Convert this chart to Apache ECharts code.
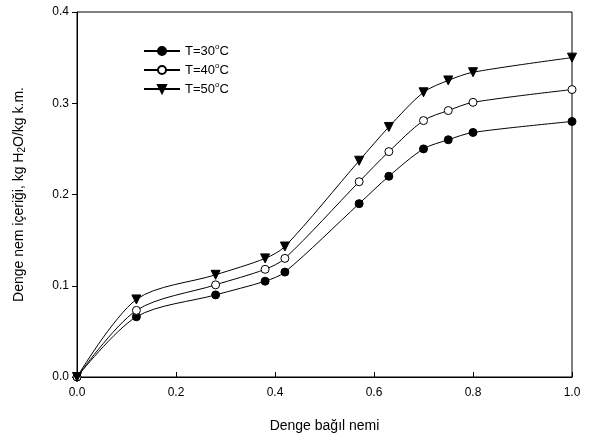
<!DOCTYPE html>
<html>
<head>
<meta charset="utf-8">
<script src="https://cdn.jsdelivr.net/npm/echarts@6/dist/echarts.min.js"></script>
<style>
  html, body { margin: 0; padding: 0; background: #fff; }
  #chart { width: 600px; height: 445px; }
</style>
</head>
<body>
<div id="chart"></div>
<script>
const humidity = [0, 0.12, 0.28, 0.38, 0.42, 0.57, 0.63, 0.70, 0.75, 0.80, 1.0];
const t30 = [0, 0.066, 0.090, 0.105, 0.115, 0.190, 0.220, 0.250, 0.260, 0.268, 0.280];
const t40 = [0, 0.073, 0.101, 0.118, 0.130, 0.214, 0.247, 0.281, 0.292, 0.301, 0.315];
const t50 = [0, 0.085, 0.112, 0.130, 0.143, 0.237, 0.274, 0.312, 0.325, 0.334, 0.350];
const seriesNames = ["T=30", "T=40", "T=50"];

const chart = echarts.init(document.getElementById("chart"));
const font = "Liberation Sans, Arial, sans-serif";

function pairs(ys) {
  return humidity.map((x, i) => [x, ys[i]]);
}

function lineSeries(name, ys, symbol, fill, rotate) {
  return {
    name,
    type: "line",
    data: pairs(ys),
    smooth: 0.3,
    symbol,
    symbolSize: symbol === "triangle" ? 9 : 8,
    symbolRotate: rotate,
    showAllSymbol: true,
    lineStyle: { color: "#000", width: 1 },
    itemStyle: { color: fill, borderColor: "#000", borderWidth: 1 },
    emphasis: { disabled: true },
  };
}

chart.setOption({
  animation: false,
  grid: {
    left: 77,
    right: 28,
    top: 12,
    bottom: 68,
    show: true,
    borderColor: "#000",
    borderWidth: 1,
  },
  legend: {
    left: 138,
    top: 38,
    orient: "vertical",
    itemGap: 3,
    itemWidth: 36,
    itemHeight: 10,
    textStyle: {
      fontFamily: font,
      fontSize: 13,
      color: "#000",
      rich: {
        sup: { fontSize: 8, lineHeight: 12, padding: [0, 0, 8, 0], fontFamily: font, color: "#000" },
        b: { fontSize: 13, lineHeight: 12, fontFamily: font, color: "#000" },
      },
    },
    formatter: (name) => "{b|" + name + "}{sup|o}{b|C}",
    data: seriesNames,
  },
  xAxis: {
    type: "value",
    min: 0,
    max: 1,
    interval: 0.2,
    name: "Denge bağıl nemi",
    nameLocation: "middle",
    nameGap: 42,
    nameTextStyle: { fontFamily: font, fontSize: 14, color: "#000" },
    axisLine: { lineStyle: { color: "#000" } },
    axisTick: { inside: true, length: 5, lineStyle: { color: "#000" } },
    axisLabel: {
      fontFamily: font,
      fontSize: 12,
      color: "#000",
      margin: 10,
      formatter: (v) => v.toFixed(1),
    },
    splitLine: { show: false },
  },
  yAxis: {
    type: "value",
    min: 0,
    max: 0.4,
    interval: 0.1,
    name: "{t|Denge nem içeriği, kg H}{s|2}{t|O/kg k.m.}",
    nameLocation: "middle",
    nameGap: 50,
    nameTextStyle: {
      fontFamily: font,
      fontSize: 14,
      color: "#000",
      rich: {
        t: { fontFamily: font, fontSize: 14, color: "#000" },
        s: { fontFamily: font, fontSize: 10, color: "#000", verticalAlign: "bottom", padding: [6, 0, 0, 0] },
      },
    },
    axisLine: { lineStyle: { color: "#000" } },
    axisTick: { inside: false, length: 5, lineStyle: { color: "#000" } },
    axisLabel: {
      fontFamily: font,
      fontSize: 12,
      color: "#000",
      margin: 8,
      formatter: (v) => v.toFixed(1),
    },
    splitLine: { show: false },
  },
  series: [
    lineSeries(seriesNames[0], t30, "circle", "#000", 0),
    lineSeries(seriesNames[1], t40, "circle", "#fff", 0),
    lineSeries(seriesNames[2], t50, "triangle", "#000", 180),
  ],
});
</script>
</body>
</html>
